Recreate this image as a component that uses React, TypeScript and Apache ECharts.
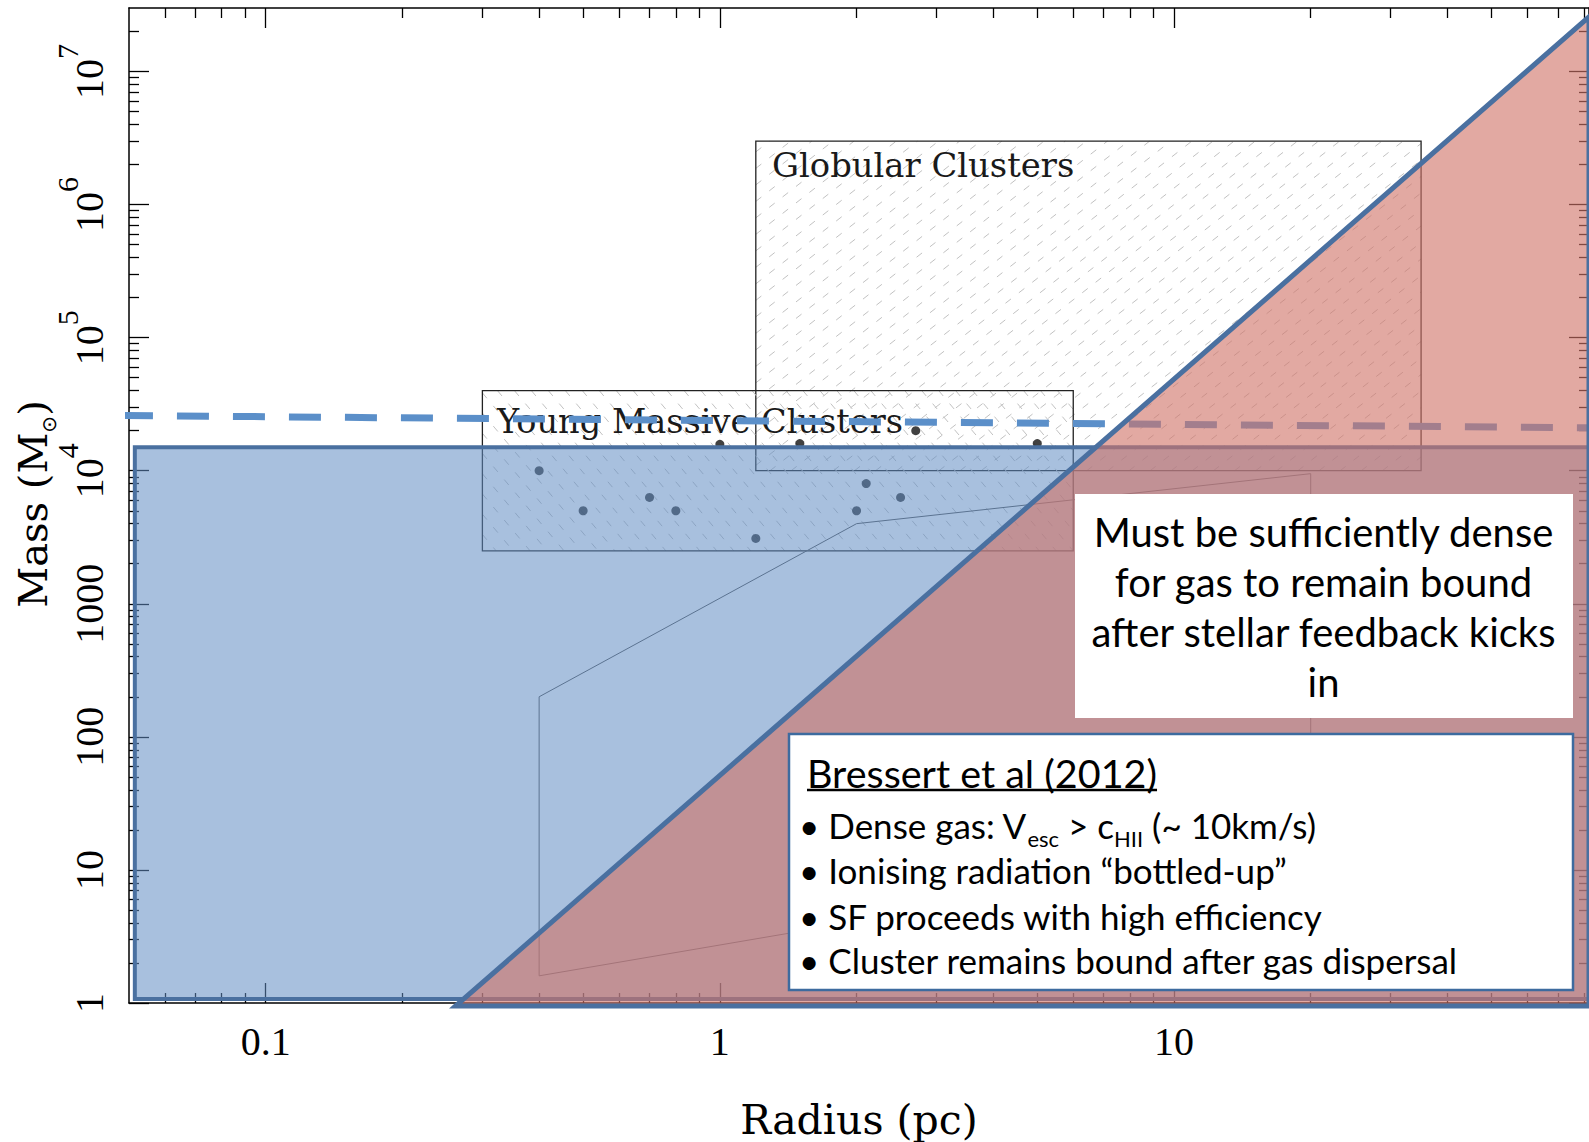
import React, { useEffect, useRef } from 'react';
import * as echarts from 'echarts';

// ---------- axis ranges & ticks ----------
const X_MIN = 0.05;
const X_MAX = 82;
const Y_MIN = 1;
const Y_MAX = 3e7;

const xMajorTicks = [0.1, 1, 10];
const xTickLabels = ['0.1', '1', '10'];
const xMinorTicks = [0.06, 0.07, 0.08, 0.09, 0.2, 0.3, 0.4, 0.5, 0.6, 0.7, 0.8, 0.9, 2, 3, 4, 5, 6, 7, 8, 9, 20, 30, 40, 50, 60, 70, 80];
const yMajorTicks = [1, 10, 100, 1000, 1e4, 1e5, 1e6, 1e7];
const yTickLabels = ['1', '10', '100', '1000', '10{sup|4}', '10{sup|5}', '10{sup|6}', '10{sup|7}'];
const yMinorTicks = [
  2, 3, 4, 5, 6, 7, 8, 9,
  20, 30, 40, 50, 60, 70, 80, 90,
  200, 300, 400, 500, 600, 700, 800, 900,
  2000, 3000, 4000, 5000, 6000, 7000, 8000, 9000,
  2e4, 3e4, 4e4, 5e4, 6e4, 7e4, 8e4, 9e4,
  2e5, 3e5, 4e5, 5e5, 6e5, 7e5, 8e5, 9e5,
  2e6, 3e6, 4e6, 5e6, 6e6, 7e6, 8e6, 9e6,
  2e7,
];

// ---------- data (radius in pc, mass in Msun) ----------
const ymcRadius = [0.4, 0.5, 0.7, 0.8, 1.0, 1.2, 1.5, 2.0, 2.1, 2.5, 2.7, 5.0];
const ymcMass = [1.0e4, 5.0e3, 6.3e3, 5.0e3, 1.58e4, 3.1e3, 1.6e4, 5.0e3, 8.0e3, 6.3e3, 2.0e4, 1.6e4];

const globularBoxR = [1.2, 35];
const globularBoxM = [1e4, 3e6];
const ymcBoxR = [0.3, 6];
const ymcBoxM = [2500, 4e4];

const openRegionR = [0.4, 2.0, 20, 20, 0.4];
const openRegionM = [200, 4000, 9500, 15.6, 1.6];

const boundRegionR = [0.0515, 82];
const boundRegionM = [1.07, 1.5e4];

const denseRegionR = [0.262, 82, 82];
const denseRegionM = [0.95, 2.57e7, 0.95];

const limitLineR = [0.048, 82];
const limitLineM = [2.6e4, 2.1e4];

// ---------- annotation texts ----------
const xAxisTitle = 'Radius (pc)';
const yAxisTitle = 'Mass (M{sub|⊙})';
const labelGlobular = 'Globular Clusters';
const labelYMC = 'Young Massive Clusters';
const mustLines = [
  'Must be sufficiently dense',
  'for gas to remain bound',
  'after stellar feedback kicks',
  'in',
];
const bressertTitle = 'Bressert et al (2012)';
const bressertLines = [
  '• Dense gas: V{sub|esc} > c{sub|HII} (~ 10km/s)',
  '• Ionising radiation “bottled-up”',
  '• SF proceeds with high efficiency',
  '• Cluster remains bound after gas dispersal',
];

const SERIF_TICK = 'Liberation Serif';
const SERIF_LBL = 'DejaVu Serif';
const SANS = 'Lato';

function nearestIndex(arr: number[], v: number) {
  let best = 0;
  const lv = Math.log10(v);
  arr.forEach((t, i) => {
    if (Math.abs(Math.log10(t) - lv) < Math.abs(Math.log10(arr[best]) - lv)) best = i;
  });
  return best;
}

function hatchLines(x0: number, y0: number, x1: number, y1: number, angleDeg: number, spacing: number, style: any) {
  const a = (angleDeg * Math.PI) / 180;
  const dx = Math.cos(a);
  const dy = Math.sin(a);
  const nx = -dy;
  const ny = dx;
  const corners = [[x0, y0], [x1, y0], [x0, y1], [x1, y1]];
  const projs = corners.map(([x, y]) => x * nx + y * ny);
  const kmin = Math.min(...projs);
  const kmax = Math.max(...projs);
  const out: any[] = [];
  for (let k = Math.ceil(kmin / spacing) * spacing; k <= kmax; k += spacing) {
    const px = k * nx;
    const py = k * ny;
    let tmin = -Infinity;
    let tmax = Infinity;
    if (Math.abs(dx) > 1e-9) {
      let t1 = (x0 - px) / dx;
      let t2 = (x1 - px) / dx;
      if (t1 > t2) [t1, t2] = [t2, t1];
      tmin = Math.max(tmin, t1);
      tmax = Math.min(tmax, t2);
    }
    if (Math.abs(dy) > 1e-9) {
      let t1 = (y0 - py) / dy;
      let t2 = (y1 - py) / dy;
      if (t1 > t2) [t1, t2] = [t2, t1];
      tmin = Math.max(tmin, t1);
      tmax = Math.min(tmax, t2);
    }
    if (!(tmax > tmin)) continue;
    out.push({
      type: 'line',
      shape: { x1: px + tmin * dx, y1: py + tmin * dy, x2: px + tmax * dx, y2: py + tmax * dy },
      style: style,
    });
  }
  return out;
}

function boxRender(rs: number[], ms: number[], angle: number) {
  return (params: any, api: any) => {
    if (params.dataIndex !== 0) return null;
    const p0 = api.coord([rs[0], ms[1]]);
    const p1 = api.coord([rs[1], ms[0]]);
    const x0 = Math.min(p0[0], p1[0]);
    const x1 = Math.max(p0[0], p1[0]);
    const y0 = Math.min(p0[1], p1[1]);
    const y1 = Math.max(p0[1], p1[1]);
    const hatch = hatchLines(x0, y0, x1, y1, angle, 13, {
      stroke: '#c2c2c2',
      lineWidth: 1,
      lineDash: [7, 10],
      fill: null,
    });
    return {
      type: 'group',
      children: [
        ...hatch,
        {
          type: 'rect',
          shape: { x: x0, y: y0, width: x1 - x0, height: y1 - y0 },
          style: { fill: null, stroke: '#222', lineWidth: 1.3 },
        },
      ],
    };
  };
}

function polyRender(rs: number[], ms: number[], style: any) {
  return (params: any, api: any) => {
    if (params.dataIndex !== 0) return null;
    const points = rs.map((r, i) => api.coord([r, ms[i]]));
    return { type: 'polygon', shape: { points }, style };
  };
}

function rectRender(rs: number[], ms: number[], style: any) {
  return (params: any, api: any) => {
    if (params.dataIndex !== 0) return null;
    const p0 = api.coord([rs[0], ms[1]]);
    const p1 = api.coord([rs[1], ms[0]]);
    return {
      type: 'rect',
      shape: { x: p0[0], y: p0[1], width: p1[0] - p0[0], height: p1[1] - p0[1] },
      style,
    };
  };
}

const pairs = (rs: number[], ms: number[]) => rs.map((r, i) => [r, ms[i]]);

export default function App() {
  const ref = useRef<HTMLDivElement>(null);

  useEffect(() => {
    if (!ref.current) return;
    const chart = echarts.init(ref.current, undefined, { renderer: 'svg' });

    const titleSize = 39.5;
    const ctx = document.createElement('canvas').getContext('2d');
    let titleWidth = 346;
    if (ctx) {
      ctx.font = `${titleSize}px ${SANS}`;
      titleWidth = ctx.measureText(bressertTitle).width;
    }

    const frameLine = { show: true, onZero: false, lineStyle: { color: '#000', width: 1.5 } };
    const noLine = { show: false, onZero: false };
    const tickStyle = { color: '#000', width: 1.3 };

    const xBase = {
      type: 'log',
      logBase: 10,
      min: X_MIN,
      max: X_MAX,
      splitLine: { show: false },
      minorTick: { show: false },
      minorSplitLine: { show: false },
    };
    const yBase = {
      type: 'log',
      logBase: 10,
      min: Y_MIN,
      max: Y_MAX,
      splitLine: { show: false },
      minorTick: { show: false },
      minorSplitLine: { show: false },
    };

    const option: any = {
      animation: false,
      backgroundColor: '#ffffff',
      grid: { left: 129, top: 8, width: 1460, height: 995, containLabel: false, outerBoundsMode: 'none' },
      xAxis: [
        {
          ...xBase,
          position: 'bottom',
          axisLine: frameLine,
          axisTick: { show: true, inside: true, length: 20, customValues: xMajorTicks, lineStyle: tickStyle },
          axisLabel: {
            show: true,
            customValues: xMajorTicks,
            formatter: (v: number) => xTickLabels[nearestIndex(xMajorTicks, v)],
            margin: 18,
            fontFamily: SERIF_TICK,
            fontSize: 40,
            color: '#000',
          },
          name: xAxisTitle,
          nameLocation: 'middle',
          nameGap: 96,
          nameTextStyle: { fontFamily: SERIF_LBL, fontSize: 41, color: '#000' },
        },
        {
          ...xBase,
          position: 'bottom',
          axisLine: noLine,
          axisTick: { show: true, inside: true, length: 10, customValues: xMinorTicks, lineStyle: tickStyle },
          axisLabel: { show: false },
        },
        {
          ...xBase,
          position: 'top',
          axisLine: frameLine,
          axisTick: { show: true, inside: true, length: 20, customValues: xMajorTicks, lineStyle: tickStyle },
          axisLabel: { show: false },
        },
        {
          ...xBase,
          position: 'top',
          axisLine: noLine,
          axisTick: { show: true, inside: true, length: 10, customValues: xMinorTicks, lineStyle: tickStyle },
          axisLabel: { show: false },
        },
      ],
      yAxis: [
        {
          ...yBase,
          position: 'left',
          axisLine: frameLine,
          axisTick: { show: true, inside: true, length: 20, customValues: yMajorTicks, lineStyle: tickStyle },
          axisLabel: {
            show: true,
            customValues: yMajorTicks,
            rotate: 90,
            formatter: (v: number) => yTickLabels[nearestIndex(yMajorTicks, v)],
            margin: 20,
            fontFamily: SERIF_TICK,
            fontSize: 40,
            color: '#000',
            rich: {
              sup: { fontFamily: SERIF_TICK, fontSize: 30, color: '#000', padding: [0, 0, 44, 0], lineHeight: 40 },
            },
          },
        },
        {
          ...yBase,
          position: 'left',
          axisLine: noLine,
          axisTick: { show: true, inside: true, length: 10, customValues: yMinorTicks, lineStyle: tickStyle },
          axisLabel: { show: false },
        },
        {
          ...yBase,
          position: 'right',
          axisLine: frameLine,
          axisTick: { show: true, inside: true, length: 20, customValues: yMajorTicks, lineStyle: tickStyle },
          axisLabel: { show: false },
        },
        {
          ...yBase,
          position: 'right',
          axisLine: noLine,
          axisTick: { show: true, inside: true, length: 10, customValues: yMinorTicks, lineStyle: tickStyle },
          axisLabel: { show: false },
        },
      ],
      series: [
        {
          name: 'Globular Clusters',
          type: 'custom',
          z: 2,
          silent: true,
          data: pairs(globularBoxR, globularBoxM),
          renderItem: boxRender(globularBoxR, globularBoxM, -38),
        },
        {
          name: 'Young Massive Clusters',
          type: 'custom',
          z: 2,
          silent: true,
          data: pairs(ymcBoxR, ymcBoxM),
          renderItem: boxRender(ymcBoxR, ymcBoxM, 50),
        },
        {
          name: 'Open region',
          type: 'custom',
          z: 3,
          silent: true,
          data: pairs(openRegionR, openRegionM),
          renderItem: polyRender(openRegionR, openRegionM, { fill: null, stroke: '#555', lineWidth: 1 }),
        },
        {
          name: 'YMC points',
          type: 'scatter',
          z: 4,
          silent: true,
          symbol: 'circle',
          symbolSize: 9,
          itemStyle: { color: '#111' },
          data: pairs(ymcRadius, ymcMass),
        },
        {
          name: 'Bound region',
          type: 'custom',
          z: 5,
          silent: true,
          data: pairs(boundRegionR, boundRegionM),
          renderItem: rectRender(boundRegionR, boundRegionM, {
            fill: 'rgba(97,140,195,0.55)',
            stroke: '#4a70a0',
            lineWidth: 4,
          }),
        },
        {
          name: 'Limit',
          type: 'line',
          z: 6,
          silent: true,
          clip: false,
          symbol: 'none',
          showSymbol: false,
          data: pairs(limitLineR, limitLineM),
          lineStyle: { color: '#5b8fc9', width: 7, type: [32, 24], cap: 'butt' },
        },
        {
          name: 'Dense region',
          type: 'custom',
          z: 7,
          silent: true,
          data: pairs(denseRegionR, denseRegionM),
          renderItem: polyRender(denseRegionR, denseRegionM, {
            fill: 'rgba(208,116,105,0.62)',
            stroke: '#4a70a0',
            lineWidth: 5,
          }),
        },
      ],
      graphic: {
        elements: [
          {
            type: 'text',
            z: 3,
            x: 33,
            y: 504,
            rotation: Math.PI / 2,
            silent: true,
            style: {
              text: yAxisTitle,
              fontFamily: SERIF_LBL,
              fontSize: 40,
              fill: '#000',
              align: 'center',
              verticalAlign: 'middle',
              rich: {
                sub: { fontFamily: 'DejaVu Sans', fontSize: 20, fill: '#000', padding: [32, 0, 0, 0], lineHeight: 40 },
              },
            },
          },
          {
            type: 'text',
            z: 3,
            x: 772,
            y: 165,
            silent: true,
            style: { text: labelGlobular, fontFamily: SERIF_LBL, fontSize: 33.8, fill: '#1a1a1a', align: 'left', verticalAlign: 'middle' },
          },
          {
            type: 'text',
            z: 3,
            x: 497,
            y: 421,
            silent: true,
            style: { text: labelYMC, fontFamily: SERIF_LBL, fontSize: 33.6, fill: '#1a1a1a', align: 'left', verticalAlign: 'middle' },
          },
          {
            type: 'rect',
            z: 20,
            silent: true,
            shape: { x: 1075, y: 494, width: 498, height: 224 },
            style: { fill: '#ffffff', stroke: null },
          },
          {
            type: 'text',
            z: 21,
            x: 1323.5,
            y: 606.5,
            silent: true,
            style: {
              text: mustLines.join('\n'),
              fontFamily: SANS,
              fontSize: 40,
              lineHeight: 50,
              fill: '#000',
              align: 'center',
              verticalAlign: 'middle',
            },
          },
          {
            type: 'rect',
            z: 20,
            silent: true,
            shape: { x: 789, y: 734, width: 784, height: 256 },
            style: { fill: '#ffffff', stroke: '#3d6b9f', lineWidth: 2.5 },
          },
          {
            type: 'text',
            z: 21,
            x: 807,
            y: 772.5,
            silent: true,
            style: { text: bressertTitle, fontFamily: SANS, fontSize: titleSize, fill: '#000', align: 'left', verticalAlign: 'middle' },
          },
          {
            type: 'line',
            z: 21,
            silent: true,
            shape: { x1: 807, y1: 790, x2: 807 + titleWidth, y2: 790 },
            style: { stroke: '#000', lineWidth: 2.5 },
          },
          ...bressertLines.map((t, i) => ({
            type: 'text',
            z: 21,
            x: 799,
            y: [825, 870, 915.5, 960][i],
            silent: true,
            style: {
              text: t,
              fontFamily: SANS,
              fontSize: 35,
              fill: '#000',
              align: 'left',
              verticalAlign: 'middle',
              rich: {
                sub: { fontFamily: SANS, fontSize: 22, fill: '#000', padding: [26, 0, 0, 0], lineHeight: 40 },
              },
            },
          })),
        ],
      },
    };

    chart.setOption(option);
    return () => {
      chart.dispose();
    };
  }, []);

  return (
    <div
      ref={ref}
      style={{ position: 'absolute', left: 0, top: 0, width: 1589, height: 1142, background: '#fff' }}
    />
  );
}
